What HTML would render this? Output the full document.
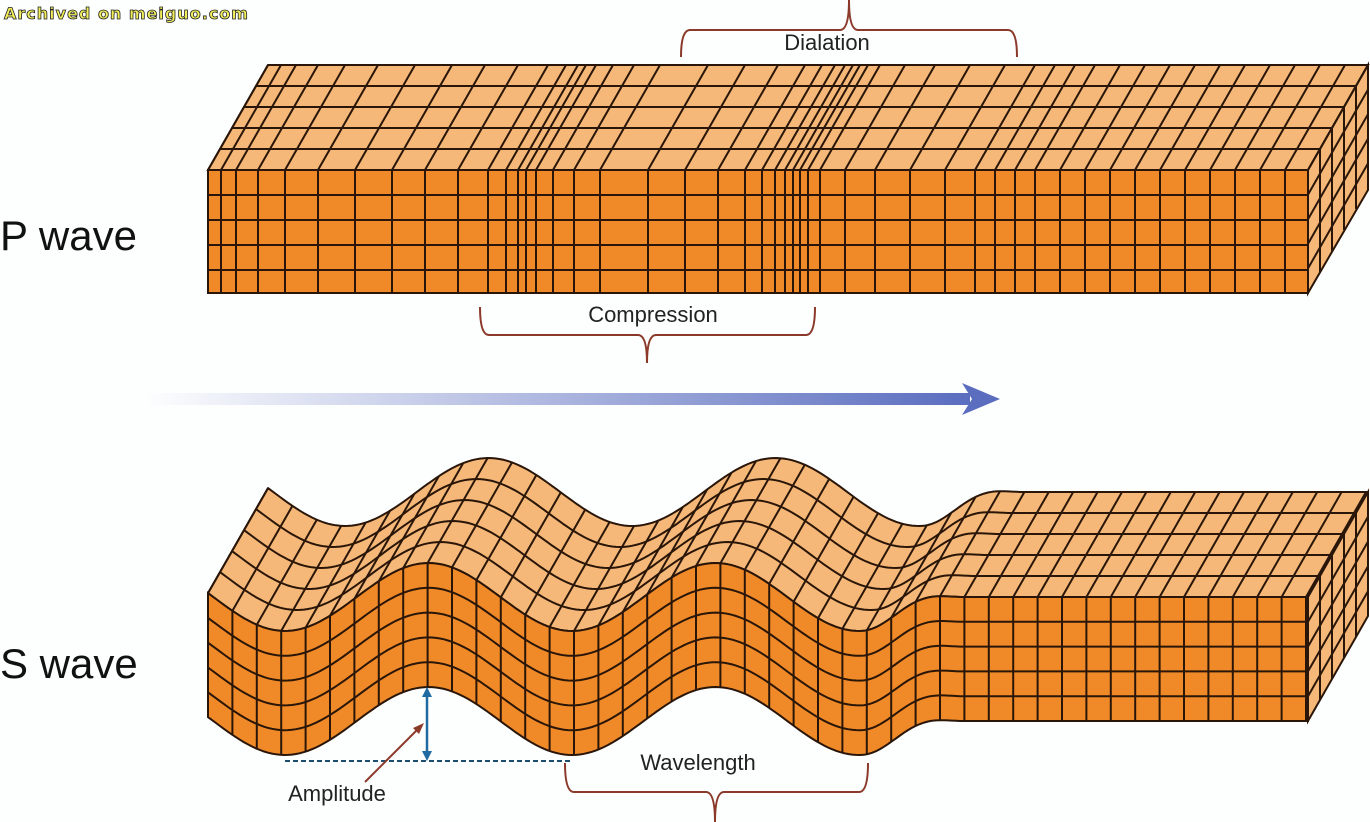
<!DOCTYPE html>
<html><head><meta charset="utf-8"><style>
html,body{margin:0;padding:0;background:#fdfefe;}
svg{display:block;}
</style></head><body>
<svg id="s" width="1370" height="822" xmlns="http://www.w3.org/2000/svg" font-family="Liberation Sans, sans-serif">
<defs>
<linearGradient id="ag" x1="0" x2="1" y1="0" y2="0">
<stop offset="0" stop-color="#5a6dbf" stop-opacity="0"/>
<stop offset="1" stop-color="#5a6dbf" stop-opacity="1"/>
</linearGradient>
</defs>
<g id="pw"></g>
<g id="sw"></g>
<rect x="145" y="393" width="825" height="12" fill="url(#ag)"/>
<polygon points="962,383 1000,399 962,415 972,399" fill="#5a6dbf"/>
<text x="0" y="250" font-size="42" fill="#111">P wave</text>
<text x="0" y="678" font-size="42" fill="#111">S wave</text>
<path d="M681,57 Q681,30 690,30 L840,30 Q849,30 849,0 Q849,30 858,30 L1008,30 Q1017,30 1017,57" fill="none" stroke="#8b3a2a" stroke-width="2"/>
<text x="827" y="50" font-size="22" fill="#222" text-anchor="middle">Dialation</text>
<path d="M480,307 Q480,335 489,335 L638,335 Q647,335 647,363 Q647,335 656,335 L806,335 Q815,335 815,307" fill="none" stroke="#8b3a2a" stroke-width="2"/>
<text x="653" y="322" font-size="22" fill="#222" text-anchor="middle">Compression</text>
<path d="M565,763 Q565,792 574,792 L706,792 Q715,792 715,822 Q715,792 724,792 L859,792 Q868,792 868,763" fill="none" stroke="#8b3a2a" stroke-width="2"/>
<text x="698" y="770" font-size="22" fill="#222" text-anchor="middle">Wavelength</text>
<line x1="285" y1="761" x2="570" y2="761" stroke="#1f4f6f" stroke-width="2" stroke-dasharray="5,3"/>
<line x1="427" y1="692" x2="427" y2="756" stroke="#1f6aa0" stroke-width="2.5"/>
<polygon points="427,687 422,697 432,697" fill="#1f6aa0"/>
<polygon points="427,761 422,751 432,751" fill="#1f6aa0"/>
<line x1="365" y1="782" x2="420" y2="727" stroke="#8b3a2a" stroke-width="2"/>
<polygon points="424,723 413,728 419,734" fill="#8b3a2a"/>
<text x="337" y="801" font-size="22" fill="#222" text-anchor="middle">Amplitude</text>
<text x="4" y="19" font-size="16" font-weight="bold" font-family="DejaVu Sans, sans-serif" fill="#f2ef5a" stroke="#222" stroke-width="0.8" letter-spacing="1">Archived on meiguo.com</text>
</svg>
<script>
(function(){
var NS="http://www.w3.org/2000/svg";
function el(p,t,a){var e=document.createElementNS(NS,t);for(var k in a)e.setAttribute(k,a[k]);p.appendChild(e);return e;}
var LC="#2a1608",SW=2;
var pw=document.getElementById("pw");
var dx=60,dy=-105;
el(pw,"polygon",{points:"208,170 268,65 1368,65 1308,170",fill:"#f5b878",stroke:LC,"stroke-width":SW});
el(pw,"polygon",{points:"1308,170 1368,65 1368,190 1308,293",fill:"#f5b878",stroke:LC,"stroke-width":SW});
el(pw,"rect",{x:208,y:170,width:1100,height:123,fill:"#f08a28",stroke:LC,"stroke-width":SW});
var xs=[208,221,236,258,285,318,355,392,425,458,488,506,518,526,536,553,574,600,648,685,718,745,762,775,785,793,800,808,820,845,875,910,945,975,995,1015,1035,1060,1085,1110,1135,1160,1185,1210,1235,1260,1285,1308];
[195,220,245,270].forEach(function(y){el(pw,"line",{x1:208,y1:y,x2:1308,y2:y,stroke:LC,"stroke-width":SW});});
[0.2,0.4,0.6,0.8].forEach(function(f){
 el(pw,"line",{x1:208+dx*f,y1:170+dy*f,x2:1308+dx*f,y2:170+dy*f,stroke:LC,"stroke-width":SW});
 el(pw,"line",{x1:1308+dx*f,y1:170+dy*f,x2:1308+dx*f,y2:293+dy*f,stroke:LC,"stroke-width":SW});
 var y0=170+123*f;el(pw,"line",{x1:1308,y1:y0,x2:1368,y2:y0-105,stroke:LC,"stroke-width":SW});
});
xs.forEach(function(x){el(pw,"line",{x1:x,y1:170,x2:x,y2:293,stroke:LC,"stroke-width":SW});
 el(pw,"line",{x1:x,y1:170,x2:x+dx,y2:170+dy,stroke:LC,"stroke-width":SW});});
var sw=document.getElementById("sw");
function bot(x){var env=1;if(x>862){env=x>=962?0:0.5*(1+Math.cos(Math.PI*(x-862)/100));}
 return 721+34*env*Math.cos(2*Math.PI*(x-285)/287);}
var T=124;
function tp(x){return bot(x)-T;}
function path(fn,x0,x1,ox,oy){var d="";for(var x=x0;x<=x1;x+=4){d+=(d?"L":"M")+(x+ox).toFixed(1)+","+(fn(x)+oy).toFixed(1);}return d;}
function pts(fn,x0,x1,ox,oy){var a=[];for(var x=x0;x<=x1;x+=4)a.push([x+ox,fn(x)+oy]);return a;}
function ps(a){return a.map(function(p){return p[0].toFixed(1)+","+p[1].toFixed(1);}).join(" ");}
var f1=pts(tp,208,1308,0,0),b1=pts(tp,208,1308,dx,dy).reverse();
el(sw,"polygon",{points:ps(f1.concat(b1)),fill:"#f5b878",stroke:LC,"stroke-width":SW,"stroke-linejoin":"round"});
el(sw,"polygon",{points:ps([[1308,tp(1308)],[1368,tp(1308)-105],[1368,bot(1308)-105],[1308,bot(1308)]]),fill:"#f5b878",stroke:LC,"stroke-width":SW});
[0.2,0.4,0.6,0.8].forEach(function(f){var y0=tp(1308)+T*f;el(sw,"line",{x1:1308,y1:y0,x2:1368,y2:y0-105,stroke:LC,"stroke-width":SW});
 el(sw,"line",{x1:1308+dx*f,y1:tp(1308)+dy*f,x2:1308+dx*f,y2:bot(1308)+dy*f,stroke:LC,"stroke-width":SW});});
[0.2,0.4,0.6,0.8].forEach(function(f){el(sw,"path",{d:path(tp,208,1308,dx*f,dy*f),fill:"none",stroke:LC,"stroke-width":SW});});
for(var x=208;x<=1308;x+=24.4){el(sw,"line",{x1:x,y1:tp(x),x2:x+dx,y2:tp(x)+dy,stroke:LC,"stroke-width":SW});}
var ft=pts(tp,208,1308,0,0),fb=pts(bot,208,1308,0,0).reverse();
el(sw,"polygon",{points:ps(ft.concat(fb)),fill:"#f08a28",stroke:LC,"stroke-width":SW});
[0.2,0.4,0.6,0.8].forEach(function(f){el(sw,"path",{d:path(function(x){return tp(x)+T*f;},208,1308,0,0),fill:"none",stroke:LC,"stroke-width":SW});});
for(var x2=208;x2<=1308;x2+=24.4){el(sw,"line",{x1:x2,y1:tp(x2),x2:x2,y2:bot(x2),stroke:LC,"stroke-width":SW});}
})();
</script>
</body></html>
